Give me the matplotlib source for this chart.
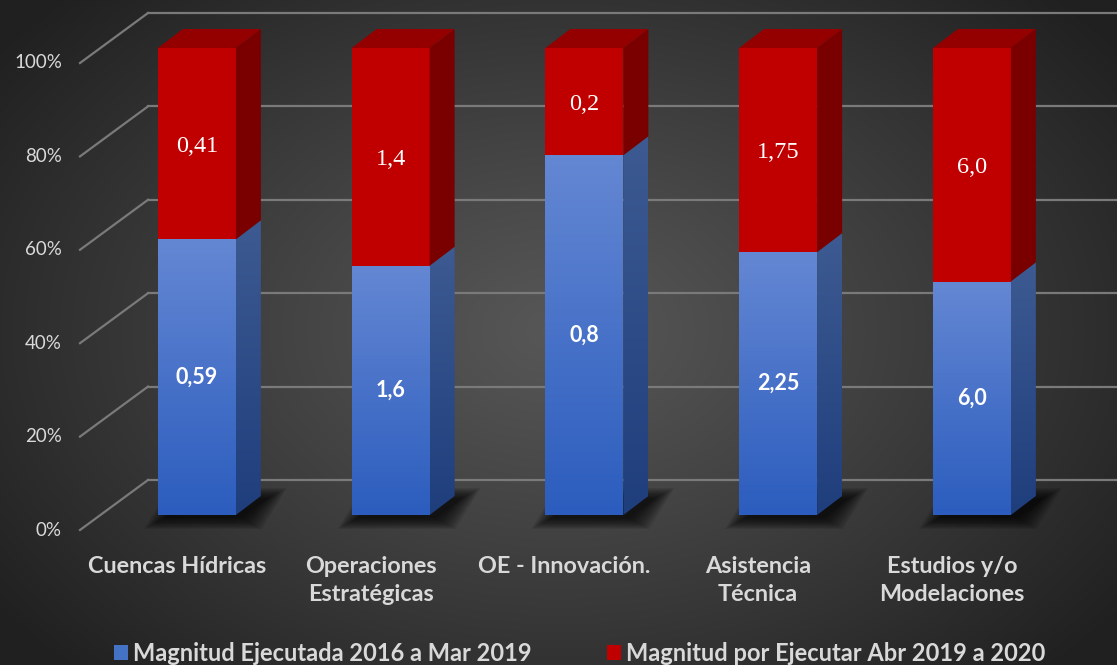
import numpy as np
import matplotlib
matplotlib.use("Agg")
import matplotlib.pyplot as plt
from matplotlib.patches import Polygon, Rectangle

# ---------------- data ----------------
categories = ["Cuencas Hídricas", "Operaciones\nEstratégicas", "OE - Innovación.",
              "Asistencia\nTécnica", "Estudios y/o\nModelaciones"]
ejecutada = [0.59, 1.6, 0.77, 2.25, 6.0]
por_ejecutar = [0.41, 1.4, 0.23, 1.75, 6.0]
ejecutada_labels = ["0,59", "1,6", "0,8", "2,25", "6,0"]
por_ejecutar_labels = ["0,41", "1,4", "0,2", "1,75", "6,0"]
series_names = ["Magnitud Ejecutada 2016 a Mar 2019",
                "Magnitud por Ejecutar Abr 2019 a 2020"]
yticks = [0, 20, 40, 60, 80, 100]
ytick_labels = ["0%", "20%", "40%", "60%", "80%", "100%"]

# ---------------- style ----------------
SANS = ["Lato", "DejaVu Sans"]
SERIF = ["Liberation Serif", "DejaVu Serif"]
TXT = "#d9d9d9"
RED_F, RED_S, RED_T = "#c00000", "#7a0000", "#940000"
BLUE_TOP, BLUE_BOT = np.array([0x64, 0x87, 0xd3]) / 255, np.array([0x2c, 0x5d, 0xbe]) / 255
BSIDE_TOP, BSIDE_BOT = np.array([0x3d, 0x5a, 0x92]) / 255, np.array([0x1f, 0x3e, 0x7c]) / 255
GRID = "#7a7a7a"

W, H = 1117, 665
fig = plt.figure(figsize=(W / 100, H / 100), dpi=100)

# background radial gradient
bg = fig.add_axes([0, 0, 1, 1], zorder=-10)
yy, xx = np.mgrid[0:H, 0:W]
r = np.sqrt(((xx - 560) / 700) ** 2 + ((yy - 330) / 480) ** 2)
r = np.clip(r, 0, 1)
v = (0x57 + (0x20 - 0x57) * r ** 1.1) / 255
bg.imshow(np.dstack([v, v, v]), extent=(0, W, 0, H), origin="upper", aspect="auto")
bg.set_axis_off()

# main axes = front plane of the bars
ax_px = [100, 150, 968.75, 467]
ax = fig.add_axes([ax_px[0] / W, ax_px[1] / H, ax_px[2] / W, ax_px[3] / H])
n = len(categories)
ax.set_xlim(-0.5, n - 0.5)
ax.set_ylim(0, 100)
ax.set_axis_off()
ax.patch.set_visible(False)

ppx = ax_px[2] / n
ppy = ax_px[3] / 100.0


def d(px, py):
    return px / ppx, py / ppy


AX_OFF = d(-20, -15)
BACK_OFF = d(25, 19)
WALL_OFF = d(48, 35)

x = np.arange(n)
tot = np.array(ejecutada) + np.array(por_ejecutar)
p_ej = np.array(ejecutada) / tot * 100
p_po = np.array(por_ejecutar) / tot * 100
bw = 78 / ppx

# wall gridlines + slanted lines
for t, lab in zip(yticks, ytick_labels):
    ax.plot([-0.5 + WALL_OFF[0], n - 0.5 + WALL_OFF[0]], [t + WALL_OFF[1]] * 2,
            color=GRID, lw=1.6, clip_on=False, zorder=1)
    ax.plot([-0.5 + AX_OFF[0], -0.5 + WALL_OFF[0]], [t + AX_OFF[1], t + WALL_OFF[1]],
            color=GRID, lw=1.6, clip_on=False, zorder=1)
    ax.text(-0.5 + AX_OFF[0] + d(-18, 0)[0], t + AX_OFF[1], lab,
            ha="right", va="center", color=TXT, fontsize=13.5, family=SANS, clip_on=False)

# shadows
for i in range(n):
    x0, x1 = x[i] - bw / 2, x[i] + bw / 2
    for k in np.linspace(20, 0, 14):
        ex, ey = d(k, k * 0.55)
        sx, sy = d(6, -3)
        poly = [(x0 - ex + sx, -ey + sy), (x1 + ex + sx, -ey + sy),
                (x1 + BACK_OFF[0] + ex + sx, BACK_OFF[1] + ey + sy),
                (x0 + BACK_OFF[0] - ex + sx, BACK_OFF[1] + ey + sy)]
        ax.add_patch(Polygon(poly, closed=True, facecolor="black", edgecolor="none",
                             alpha=0.075, zorder=2, clip_on=False))


def vgrad(c_top, c_bot, npts=64):
    t = np.linspace(0, 1, npts)[:, None]
    return (c_top[None, :] * (1 - t) + c_bot[None, :] * t)[:, None, :]


# bars
bars_ej = ax.bar(x, p_ej, width=bw, color="#4472c4", zorder=5, linewidth=0)
bars_po = ax.bar(x, p_po, bottom=p_ej, width=bw, color=RED_F, zorder=5, linewidth=0)

for i in range(n):
    x0, x1 = x[i] - bw / 2, x[i] + bw / 2
    b, m, t = 0, p_ej[i], 100
    # blue front gradient
    im = ax.imshow(vgrad(BLUE_TOP, BLUE_BOT), extent=(x0, x1, b, m), origin="upper",
                   aspect="auto", zorder=5.5, interpolation="bilinear")
    im.set_clip_path(bars_ej[i])
    # blue side
    side_b = Polygon([(x1, b), (x1 + BACK_OFF[0], b + BACK_OFF[1]),
                      (x1 + BACK_OFF[0], m + BACK_OFF[1]), (x1, m)], closed=True,
                     facecolor="none", edgecolor="none", zorder=5)
    ax.add_patch(side_b)
    im2 = ax.imshow(vgrad(BSIDE_TOP, BSIDE_BOT), extent=(x1, x1 + BACK_OFF[0], b, m + BACK_OFF[1]),
                    origin="upper", aspect="auto", zorder=5.5, interpolation="bilinear")
    im2.set_clip_path(side_b)
    # red side
    ax.add_patch(Polygon([(x1, m), (x1 + BACK_OFF[0], m + BACK_OFF[1]),
                          (x1 + BACK_OFF[0], t + BACK_OFF[1]), (x1, t)], closed=True,
                         facecolor=RED_S, edgecolor="none", zorder=5, clip_on=False))
    # top
    ax.add_patch(Polygon([(x0, t), (x1, t), (x1 + BACK_OFF[0], t + BACK_OFF[1]),
                          (x0 + BACK_OFF[0], t + BACK_OFF[1])], closed=True,
                         facecolor=RED_T, edgecolor="none", zorder=5, clip_on=False))
    # labels
    ax.text(x[i], m / 2, ejecutada_labels[i], ha="center", va="center", color="white",
            fontsize=15.5, fontweight="bold", family=SANS, zorder=8)
    ax.text(x[i], (m + t) / 2, por_ejecutar_labels[i], ha="center", va="center_baseline",
            color="white", fontsize=17.5, family=SERIF, zorder=8)
    # category label
    ax.text(x[i] + AX_OFF[0], d(0, -26)[1] + AX_OFF[1], categories[i], ha="center", va="top",
            color=TXT, fontsize=16.8, fontweight="bold", family=SANS, linespacing=1.4,
            clip_on=False)

h1 = Rectangle((0, 0), 1, 1, facecolor="#4472c4", edgecolor="none")
h2 = Rectangle((0, 0), 1, 1, facecolor=RED_F, edgecolor="none")
leg = fig.legend([h1, h2], series_names, loc="lower center", ncol=2, frameon=False,
                 bbox_to_anchor=(0.519, -0.032), handlelength=0.6, handleheight=0.6,
                 handletextpad=0.2, columnspacing=3.2,
                 prop={"family": SANS, "size": 17, "weight": "bold"})
for tx in leg.get_texts():
    tx.set_color(TXT)

fig.savefig("out.png", dpi=100)
